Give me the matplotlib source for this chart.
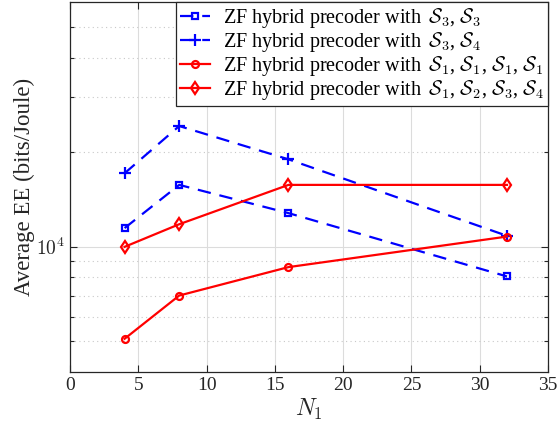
import numpy as np
import matplotlib
matplotlib.use("Agg")
import matplotlib.pyplot as plt
import matplotlib.ticker as ticker

plt.rcParams["font.family"] = ["Liberation Serif", "DejaVu Serif"]
plt.rcParams["mathtext.fontset"] = "cm"

N1 = [4, 8, 16, 32]
ee_s3_s3 = [11470, 15740, 12800, 8050]
ee_s3_s4 = [17140, 24220, 18980, 10840]
ee_s1_x4 = [5100, 7000, 8620, 10780]
ee_s1_s4 = [10000, 11800, 15740, 15740]

labels = [
    r"ZF hybrid precoder with $\,\mathcal{S}_3$, $\mathcal{S}_3$",
    r"ZF hybrid precoder with $\,\mathcal{S}_3$, $\mathcal{S}_4$",
    r"ZF hybrid precoder with $\,\mathcal{S}_1$, $\mathcal{S}_1$, $\mathcal{S}_1$, $\mathcal{S}_1$",
    r"ZF hybrid precoder with $\,\mathcal{S}_1$, $\mathcal{S}_2$, $\mathcal{S}_3$, $\mathcal{S}_4$",
]

fig = plt.figure(figsize=(5.58, 4.32), dpi=100)
ax = fig.add_axes([0.1254, 0.139, 0.8566, 0.856])

dash = (0, (6, 4))
ax.plot(N1, ee_s3_s3, color="blue", ls=dash, lw=1.6, marker="s", ms=5,
        mfc="none", mew=1.6, label=labels[0])
ax.plot(N1, ee_s3_s4, color="blue", ls=dash, lw=1.6, marker="+", ms=8,
        mew=1.6, label=labels[1])
ax.plot(N1, ee_s1_x4, color="red", ls="-", lw=1.6, marker="o", ms=5,
        mfc="none", mew=1.6, label=labels[2])
ax.plot(N1, ee_s1_s4, color="red", ls="-", lw=1.6, marker="d", ms=6,
        mfc="none", mew=1.6, label=labels[3])

ax.set_yscale("log")
ax.set_xlim(0, 35)
ax.set_ylim(4000, 60000)
ax.xaxis.set_major_locator(ticker.MultipleLocator(5))
ax.yaxis.set_major_locator(ticker.FixedLocator([1e4]))
ax.yaxis.set_minor_locator(ticker.FixedLocator(
    [5000, 6000, 7000, 8000, 9000, 20000, 30000, 40000, 50000]))
ax.yaxis.set_minor_formatter(ticker.NullFormatter())
ax.yaxis.set_major_formatter(ticker.FuncFormatter(lambda v, p: r"$10^4$"))

ax.tick_params(which="both", direction="in", top=True, right=True,
               labelsize=14, colors="#262626", width=0.8)
ax.tick_params(which="major", length=5)
ax.tick_params(which="minor", length=3)
ax.grid(which="major", color="#dcdcdc", lw=0.8, ls="-")
ax.grid(which="minor", axis="y", color="#c8c8c8", lw=0.8, ls=(0, (1, 3)))
ax.set_axisbelow(True)
for s in ax.spines.values():
    s.set_color("#262626")
    s.set_linewidth(0.9)

ax.set_xlabel(r"$N_1$", fontsize=17, color="#262626", labelpad=2)
ax.set_ylabel("Average EE (bits/Joule)", fontsize=16.5, color="#262626", labelpad=1)

leg = ax.legend(loc="upper right", fontsize=14.5, borderaxespad=0, fancybox=False,
                framealpha=1, edgecolor="#262626", handlelength=1.5,
                handletextpad=0.6, labelspacing=0.0, borderpad=0.2)
leg.get_frame().set_linewidth(0.9)

fig.savefig("out.png", dpi=100)
